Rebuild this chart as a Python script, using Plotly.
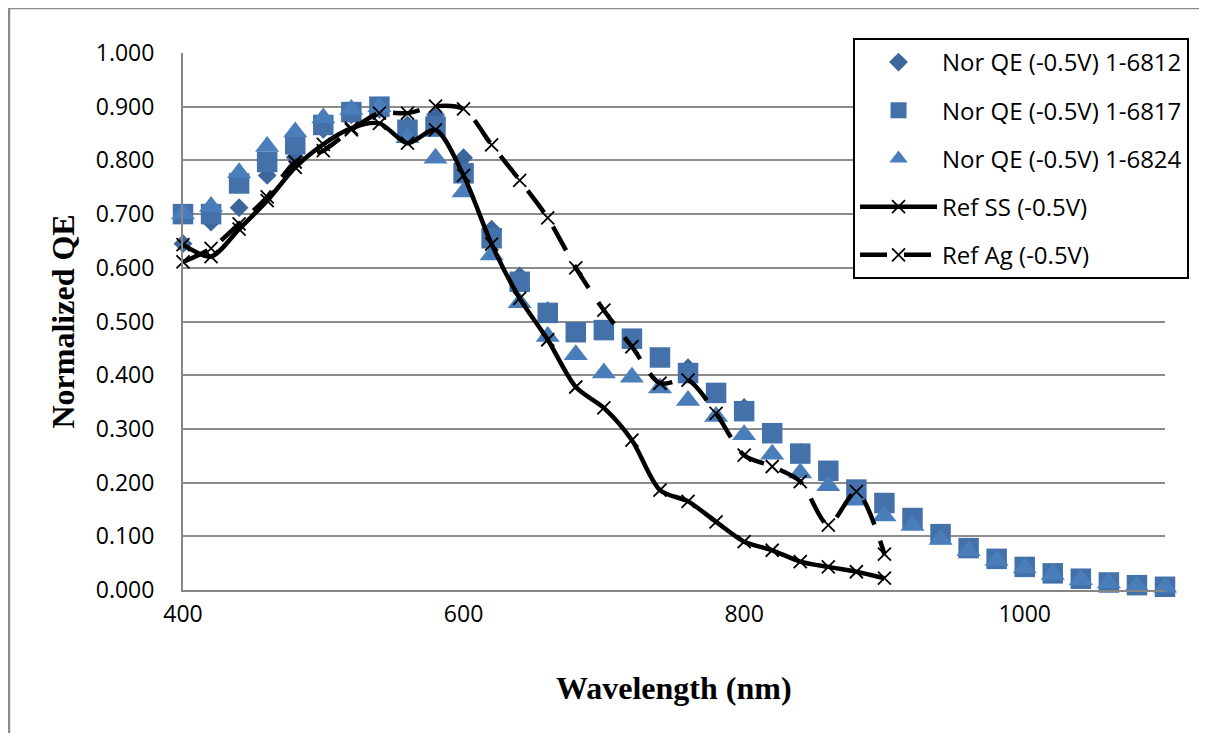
import plotly.graph_objects as go

# ---------------- data ----------------
wavelength = [400, 420, 440, 460, 480, 500, 520, 540, 560, 580, 600, 620,
              640, 660, 680, 700, 720, 740, 760, 780, 800, 820, 840, 860,
              880, 900, 920, 940, 960, 980, 1000, 1020, 1040, 1060, 1080, 1100]

qe_6812 = [0.645, 0.685, 0.712, 0.772, 0.806, 0.858, 0.885, 0.895, 0.866, 0.885,
           0.805, 0.672, 0.585, 0.520, 0.480, 0.485, 0.468, 0.432, 0.414, 0.368,
           0.340, 0.292, 0.256, 0.222, 0.186, 0.162, 0.133, 0.104, 0.079, 0.058,
           0.044, 0.031, 0.021, 0.014, 0.009, 0.006]

qe_6817 = [0.700, 0.700, 0.757, 0.797, 0.830, 0.866, 0.890, 0.900, 0.857, 0.863,
           0.776, 0.655, 0.574, 0.516, 0.480, 0.484, 0.468, 0.433, 0.404, 0.367,
           0.333, 0.292, 0.254, 0.222, 0.187, 0.162, 0.134, 0.104, 0.078, 0.058,
           0.043, 0.031, 0.021, 0.014, 0.009, 0.006]

qe_6824 = [0.700, 0.714, 0.777, 0.826, 0.853, 0.879, 0.895, 0.900, 0.842, 0.804,
           0.741, 0.624, 0.535, 0.472, 0.438, 0.404, 0.396, 0.376, 0.353, 0.323,
           0.289, 0.253, 0.218, 0.194, 0.167, 0.138, 0.120, 0.094, 0.073, 0.055,
           0.041, 0.029, 0.019, 0.013, 0.008, 0.005]

ref_wavelength = [400, 420, 440, 460, 480, 500, 520, 540, 560, 580, 600, 620, 640,
                  660, 680, 700, 720, 740, 760, 780, 800, 820, 840, 860, 880, 900]

ref_ss = [0.643, 0.621, 0.672, 0.725, 0.787, 0.830, 0.860, 0.869, 0.832, 0.857,
          0.772, 0.644, 0.543, 0.466, 0.378, 0.339, 0.279, 0.186, 0.165, 0.127,
          0.090, 0.074, 0.053, 0.043, 0.034, 0.022]

ref_ag = [0.611, 0.636, 0.682, 0.732, 0.797, 0.818, 0.857, 0.888, 0.888, 0.901,
          0.896, 0.829, 0.763, 0.693, 0.600, 0.521, 0.453, 0.385, 0.391, 0.329,
          0.251, 0.230, 0.202, 0.121, 0.183, 0.067]

x_tick_vals = [400, 600, 800, 1000]
y_tick_vals = [0.0, 0.1, 0.2, 0.3, 0.4, 0.5, 0.6, 0.7, 0.8, 0.9, 1.0]

TICK_FONT = dict(family="Open Sans", size=23, color="#000000")
TITLE_FONT = dict(family="Liberation Serif", size=32, color="#000000")

fig = go.Figure()

fig.add_trace(go.Scatter(
    x=wavelength, y=qe_6812, mode="markers", name="Nor QE (-0.5V) 1-6812",
    legendgroup="g1",
    marker=dict(symbol="diamond", size=14.5, color="#3D679C"),
    cliponaxis=False))
fig.add_trace(go.Scatter(
    x=wavelength, y=qe_6817, mode="markers", name="Nor QE (-0.5V) 1-6817",
    legendgroup="g2",
    marker=dict(symbol="square", size=20.5, color="#4471AA"),
    cliponaxis=False))
fig.add_trace(go.Scatter(
    x=wavelength, y=qe_6824, mode="markers", name="Nor QE (-0.5V) 1-6824",
    legendgroup="g3",
    marker=dict(symbol="triangle-up", size=21, color="#4A7EBB"),
    cliponaxis=False))
fig.add_trace(go.Scatter(
    x=ref_wavelength, y=ref_ss, mode="lines+markers", name="Ref SS (-0.5V)",
    legendgroup="g4",
    line=dict(color="#000000", width=4.5, shape="spline", smoothing=0.8),
    marker=dict(symbol="x-thin", size=13, color="#000000",
                line=dict(color="#000000", width=1.8)),
    cliponaxis=False))
fig.add_trace(go.Scatter(
    x=ref_wavelength, y=ref_ag, mode="lines+markers", name="Ref Ag (-0.5V)",
    legendgroup="g5",
    line=dict(color="#000000", width=4.5, dash="27px,17px", shape="spline", smoothing=0.8),
    marker=dict(symbol="x-thin", size=13, color="#000000",
                line=dict(color="#000000", width=1.8)),
    cliponaxis=False))

fig.update_layout(
    width=1207, height=733,
    margin=dict(l=175, r=50, t=45, b=151),
    paper_bgcolor="white", plot_bgcolor="white",
    showlegend=True,
    legend=dict(
        x=0.6823, y=1.028, xanchor="left", yanchor="top",
        bgcolor="white", bordercolor="#000000", borderwidth=2,
        font=dict(family="Open Sans", size=24, color="#000000"),
        traceorder="grouped", tracegroupgap=14, itemwidth=77,
    ),
    xaxis=dict(
        range=[400, 1100], tickvals=x_tick_vals,
        ticktext=[str(v) for v in x_tick_vals],
        showgrid=False, zeroline=False,
        showline=True, linecolor="#868686", linewidth=2,
        ticks="", tickfont=TICK_FONT, ticklabelstandoff=2,
    ),
    yaxis=dict(
        range=[0, 1], tickvals=y_tick_vals,
        ticktext=[f"{v:.3f}" for v in y_tick_vals],
        showgrid=True, gridcolor="#8C8C8C", gridwidth=1.6,
        zeroline=False, showline=True, linecolor="#868686", linewidth=2,
        ticks="", tickfont=TICK_FONT, ticklabelstandoff=22,
    ),
    annotations=[
        dict(text="<b>Wavelength (nm)</b>", xref="paper", yref="paper",
             x=0.50, y=-0.1825, xanchor="center", yanchor="middle",
             showarrow=False, font=TITLE_FONT),
        dict(text="<b>Normalized QE</b>", xref="paper", yref="paper",
             x=-0.1222, y=0.5, xanchor="center", yanchor="middle",
             textangle=-90, showarrow=False, font=TITLE_FONT),
    ],
    shapes=[
        dict(type="line", xref="paper", yref="paper", x0=-0.1772, x1=-0.1772,
             y0=-0.30, y1=1.0838, line=dict(color="#8A8A8A", width=2.5)),
        dict(type="line", xref="paper", yref="paper", x0=-0.1772, x1=1.0418,
             y0=1.0838, y1=1.0838, line=dict(color="#8A8A8A", width=2.5)),
        dict(type="line", xref="paper", yref="paper", x0=1.0418, x1=1.0418,
             y0=-0.30, y1=1.0838, line=dict(color="#DDDDDD", width=1.5)),
    ],
)

fig.write_html("out.html")
